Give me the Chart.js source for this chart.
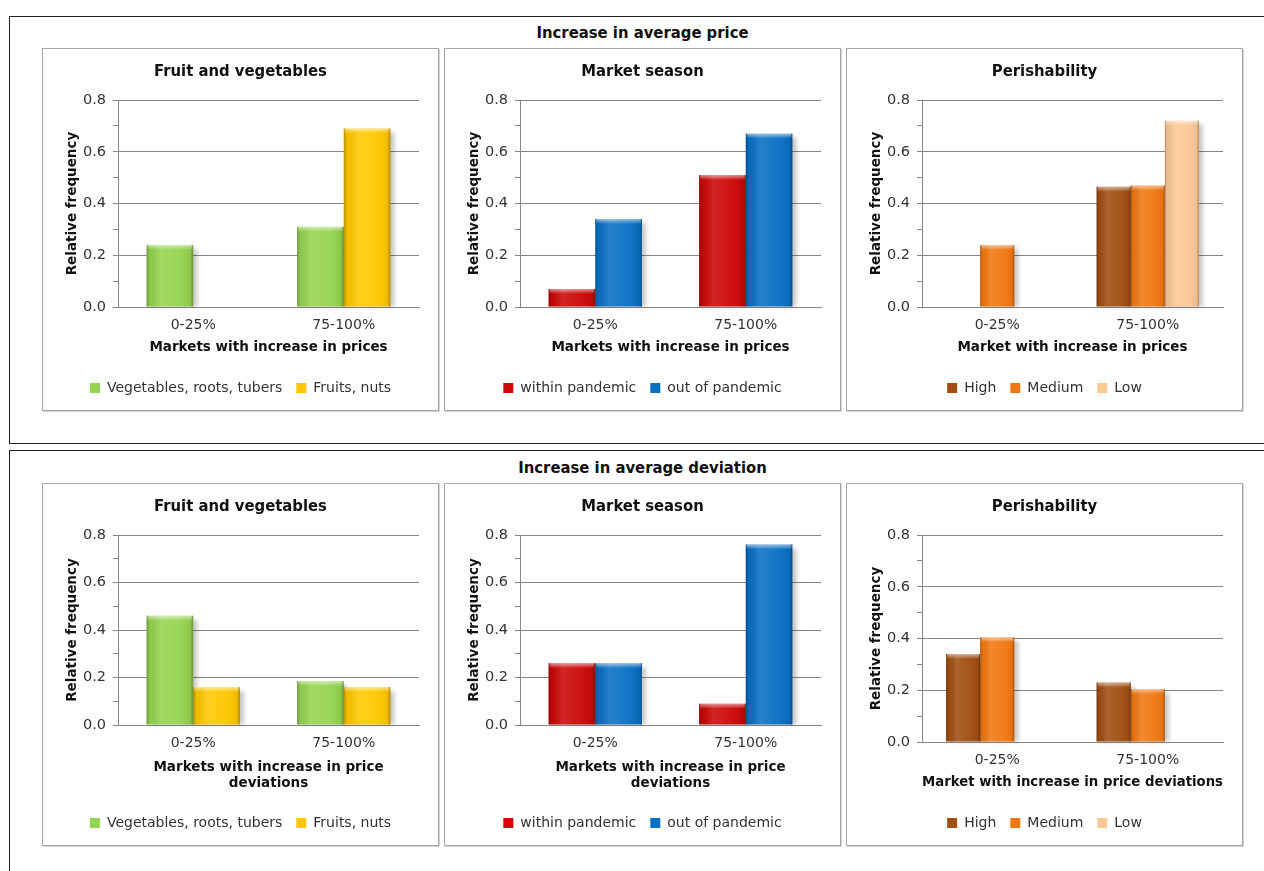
<!DOCTYPE html>
<html>
<head>
<meta charset="utf-8">
<script src="https://cdn.jsdelivr.net/npm/chart.js@4.4.1/dist/chart.umd.min.js"></script>
<style>
  body { margin: 0; background: #fff; width: 1264px; height: 871px; overflow: hidden; position: relative; font-family: 'DejaVu Sans', sans-serif; }
  .frame { position: absolute; left: 9px; width: 1300px; border: 1.5px solid #222; box-sizing: border-box; }
  #f1 { top: 16px; height: 428px; }
  #f2 { top: 450px; height: 440px; }
  .ptitle { position: absolute; left: 42px; width: 1201px; text-align: center; font: bold 16.5px 'DejaVu Sans Condensed', sans-serif; color: #111; line-height: 19px; }
  .box { position: absolute; width: 395px; height: 361px; border: 1px solid #a6a6a6; box-shadow: 1px 1px 0 #d4d4d4; background: #fff; }
  canvas { display: block; }
</style>
</head>
<body>
<div class="frame" id="f1"></div>
<div class="frame" id="f2"></div>
<div class="ptitle" style="top:23px">Increase in average price</div>
<div class="ptitle" style="top:458px">Increase in average deviation</div>

<div class="box" style="left:42px;top:48px"><canvas id="c1" width="395" height="361"></canvas></div>
<div class="box" style="left:444px;top:48px"><canvas id="c2" width="395" height="361"></canvas></div>
<div class="box" style="left:846px;top:48px"><canvas id="c3" width="395" height="361"></canvas></div>
<div class="box" style="left:42px;top:483px"><canvas id="c4" width="395" height="361"></canvas></div>
<div class="box" style="left:444px;top:483px"><canvas id="c5" width="395" height="361"></canvas></div>
<div class="box" style="left:846px;top:483px"><canvas id="c6" width="395" height="361"></canvas></div>

<script>
// categories and series (relative frequency)
const categories = ['0-25%', '75-100%'];

// increase in average price
const vegPrice = [0.24, 0.31];
const fruitPrice = [null, 0.69];
const withinPrice = [0.07, 0.51];
const outPrice = [0.34, 0.67];
const highPrice = [null, 0.465];
const mediumPrice = [0.24, 0.47];
const lowPrice = [null, 0.72];

// increase in average deviation
const vegDev = [0.46, 0.185];
const fruitDev = [0.16, 0.16];
const withinDev = [0.26, 0.09];
const outDev = [0.26, 0.76];
const highDev = [0.34, 0.23];
const mediumDev = [0.405, 0.205];
const lowDev = [null, null];

const yMin = 0;
const yMax = 0.8;
const yStep = 0.1;

const colors = {
  veg: '#95d44f', fruit: '#ffc700',
  within: '#cc0808', out: '#0a70c4',
  high: '#a04e12', medium: '#f07812', low: '#fcc896'
};

// sombra e brilho das barras (efeito 3D do Excel)
const barLook = {
  id: 'barLook',
  beforeDatasetsDraw(chart) {
    const ctx = chart.ctx;
    ctx.save();
    ctx.fillStyle = 'rgba(0,0,0,0.22)';
    ctx.filter = 'blur(2px)';
    chart.data.datasets.forEach((ds, di) => {
      chart.getDatasetMeta(di).data.forEach((bar, i) => {
        if (ds.data[i] == null) return;
        const p = bar.getProps(['x', 'y', 'base', 'width'], true);
        ctx.fillRect(p.x - p.width / 2 + 4, p.y + 4, p.width, p.base - p.y - 4);
      });
    });
    ctx.restore();
  },
  afterDatasetsDraw(chart) {
    const ctx = chart.ctx;
    ctx.save();
    chart.data.datasets.forEach((ds, di) => {
      chart.getDatasetMeta(di).data.forEach((bar, i) => {
        if (ds.data[i] == null) return;
        const p = bar.getProps(['x', 'y', 'base', 'width'], true);
        const left = p.x - p.width / 2;
        const g = ctx.createLinearGradient(left, 0, left + p.width, 0);
        g.addColorStop(0, 'rgba(0,0,0,0.28)');
        g.addColorStop(0.07, 'rgba(0,0,0,0.05)');
        g.addColorStop(0.3, 'rgba(255,255,255,0.12)');
        g.addColorStop(0.7, 'rgba(255,255,255,0.04)');
        g.addColorStop(0.93, 'rgba(0,0,0,0.05)');
        g.addColorStop(1, 'rgba(0,0,0,0.3)');
        ctx.fillStyle = g;
        ctx.fillRect(left, p.y, p.width, p.base - p.y);
        const t = ctx.createLinearGradient(0, p.y, 0, p.y + 5);
        t.addColorStop(0, 'rgba(255,255,255,0.55)');
        t.addColorStop(1, 'rgba(255,255,255,0)');
        ctx.fillStyle = t;
        ctx.fillRect(left + 1, p.y, p.width - 2, 5);
      });
    });
    ctx.restore();
  }
};

function makeChart(id, title, xTitle, series) {
  const twoLines = Array.isArray(xTitle);
  const catPct = series.length === 3 ? 0.68 : 0.62;
  new Chart(document.getElementById(id), {
    type: 'bar',
    data: {
      labels: categories,
      datasets: series.map(s => ({
        label: s.label,
        data: s.data,
        backgroundColor: s.color,
        borderWidth: 0,
        barPercentage: 1,
        categoryPercentage: catPct
      }))
    },
    options: {
      responsive: false,
      animation: false,
      layout: { padding: { left: 0, right: 0, top: 0, bottom: 5 } },
      plugins: {
        tooltip: { enabled: false },
        title: {
          display: true,
          text: title,
          color: '#111',
          font: { family: "'DejaVu Sans Condensed'", size: 16.5, weight: 'bold', lineHeight: 1.2 },
          padding: { top: 13, bottom: 18.2 }
        },
        legend: {
          position: 'bottom',
          labels: {
            boxWidth: 10,
            boxHeight: 10,
            padding: 14,
            color: '#333',
            font: { family: "'DejaVu Sans'", size: 14 }
          }
        }
      },
      scales: {
        x: {
          afterFit: (scale) => { scale.height = twoLines ? 77 : 60; },
          grid: { display: false },
          border: { display: true, color: '#868686' },
          ticks: { color: '#333', padding: 2, font: { family: "'DejaVu Sans'", size: 14 } },
          title: {
            display: true,
            text: xTitle,
            color: '#111',
            font: { family: "'DejaVu Sans'", size: 13.5, weight: 'bold', lineHeight: 16 / 13.5 },
            padding: { top: 0, bottom: twoLines ? 11 : 12 }
          }
        },
        y: {
          min: yMin,
          max: yMax,
          afterFit: (scale) => { scale.width = 75; },
          grid: {
            color: (c) => (Math.round(c.tick.value * 10) % 2 === 0 ? '#868686' : 'rgba(0,0,0,0)'),
            tickColor: '#868686',
            tickLength: 5
          },
          border: { display: true, color: '#868686' },
          ticks: {
            stepSize: yStep,
            autoSkip: false,
            padding: 7,
            color: '#333',
            font: { family: "'DejaVu Sans'", size: 14.5 },
            callback: (v) => (Math.round(v * 10) % 2 === 0 ? v.toFixed(1) : '')
          },
          title: {
            display: true,
            text: 'Relative frequency',
            color: '#111',
            font: { family: "'DejaVu Sans'", size: 13.5, weight: 'bold' },
            padding: { top: 21, bottom: 0 }
          }
        },
        // marge droite vide, pour garder titre et légende centrés sur la boîte
        yRight: {
          position: 'right',
          afterFit: (scale) => { scale.width = 19; },
          grid: { display: false },
          border: { display: false },
          ticks: { display: false }
        }
      }
    },
    plugins: [barLook]
  });
}

makeChart('c1', 'Fruit and vegetables', 'Markets with increase in prices', [
  { label: 'Vegetables, roots, tubers', data: vegPrice, color: colors.veg },
  { label: 'Fruits, nuts', data: fruitPrice, color: colors.fruit }
]);
makeChart('c2', 'Market season', 'Markets with increase in prices', [
  { label: 'within pandemic', data: withinPrice, color: colors.within },
  { label: 'out of pandemic', data: outPrice, color: colors.out }
]);
makeChart('c3', 'Perishability', 'Market with increase in prices', [
  { label: 'High', data: highPrice, color: colors.high },
  { label: 'Medium', data: mediumPrice, color: colors.medium },
  { label: 'Low', data: lowPrice, color: colors.low }
]);
makeChart('c4', 'Fruit and vegetables', ['Markets with increase in price', 'deviations'], [
  { label: 'Vegetables, roots, tubers', data: vegDev, color: colors.veg },
  { label: 'Fruits, nuts', data: fruitDev, color: colors.fruit }
]);
makeChart('c5', 'Market season', ['Markets with increase in price', 'deviations'], [
  { label: 'within pandemic', data: withinDev, color: colors.within },
  { label: 'out of pandemic', data: outDev, color: colors.out }
]);
makeChart('c6', 'Perishability', 'Market with increase in price deviations', [
  { label: 'High', data: highDev, color: colors.high },
  { label: 'Medium', data: mediumDev, color: colors.medium },
  { label: 'Low', data: lowDev, color: colors.low }
]);
</script>
</body>
</html>
